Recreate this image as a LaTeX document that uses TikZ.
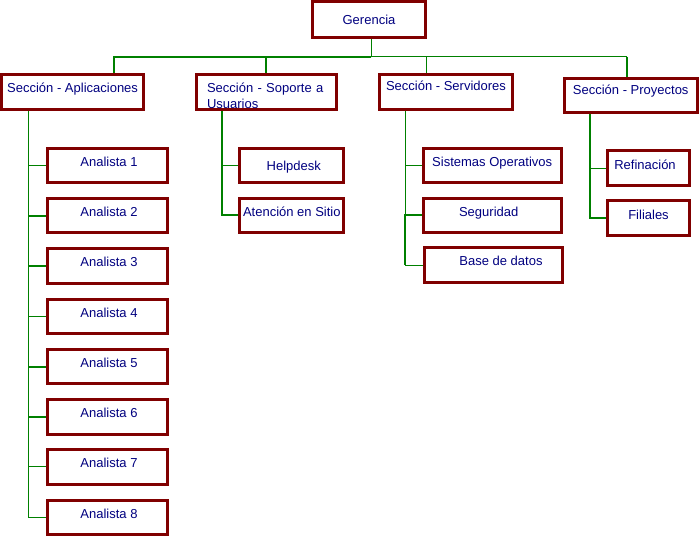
\documentclass[tikz,border=0pt]{standalone}
\usepackage{fontspec}
\setmainfont{Liberation Sans}
\definecolor{boxred}{RGB}{128,0,0}
\definecolor{navytext}{RGB}{0,0,128}
\definecolor{linegreen}{RGB}{0,128,0}
\pgfdeclarelayer{background}
\pgfsetlayers{background,main}
\begin{document}
\begin{tikzpicture}[x=1pt,y=-1pt,
  box/.style={draw=boxred, line width=3pt, fill=white, inner sep=0pt,
    text=navytext, font=\fontsize{13}{15.6}\selectfont,
    text height=10pt, text depth=8.6pt, minimum height=34.5pt},
  boxmid/.style={text depth=0.6pt},
  boxhigh/.style={text depth=12.6pt},
  anbox/.style={box, minimum width=120.6pt},
  thinln/.style={draw=linegreen, line width=1pt},
  thickln/.style={draw=linegreen, line width=2pt}]
\useasboundingbox (0,0) rectangle (700,538);

% top
\node[box, boxmid, minimum width=113pt, minimum height=36pt] (ger) at (369,19.5) {Gerencia};

% sections
\node[box, minimum width=142pt] (sap) at (72.6,92.2) {Sección - Aplicaciones};
\node[box, minimum width=140pt, align=left, text width=118pt, inner xsep=11pt] (ssop) at (266,92.2) {Sección - Soporte a\\Usuarios};
\node[box, boxhigh, minimum width=133.6pt] (sser) at (446,92.2) {Sección - Servidores};
\node[box, boxhigh, minimum width=133pt] (spro) at (630.7,95.7) {Sección - Proyectos};

% analistas
\node[anbox] (a1) at (107.5,165.4) {\hspace*{3pt}Analista 1};
\node[anbox] (a2) at (107.5,215.5) {\hspace*{3pt}Analista 2};
\node[anbox] (a3) at (107.5,265.9) {\hspace*{3pt}Analista 3};
\node[anbox] (a4) at (107.5,316.3) {\hspace*{3pt}Analista 4};
\node[anbox] (a5) at (107.5,366.5) {\hspace*{3pt}Analista 5};
\node[anbox] (a6) at (107.5,416.8) {\hspace*{3pt}Analista 6};
\node[anbox] (a7) at (107.5,466.9) {\hspace*{3pt}Analista 7};
\node[anbox] (a8) at (107.5,517.6) {\hspace*{3pt}Analista 8};

% soporte
\node[box, boxmid, minimum width=104pt] (hd) at (291.8,165.4) {\hspace*{4pt}Helpdesk};
\node[box, minimum width=104pt] (at) at (291.8,215.4) {Atención en Sitio};

% servidores
\node[box, minimum width=138pt] (so) at (492.2,165.4) {Sistemas Operativos};
\node[box, minimum width=138pt] (seg) at (492.2,215.4) {Seguridad\hspace*{7pt}};
\node[box, minimum width=138pt] (bd) at (493,265.2) {\hspace*{16pt}Base de datos};

% proyectos
\node[box, minimum width=81.4pt, minimum height=35pt] (ref) at (648.5,168.3) {Refinación\hspace*{7pt}};
\node[box, minimum width=81.4pt, minimum height=35pt] (fil) at (648.5,218.3) {Filiales};

% trunk x-positions and bus points
\coordinate (busM) at (371.3,56.7);
\coordinate (busL) at (114,56.7);
\coordinate (busS) at (426.7,56.7);
\coordinate (busP) at (627,56.7);
\coordinate (xA) at (28.5,0);
\coordinate (xS) at (222,0);
\coordinate (xV) at (405,0);
\coordinate (xP) at (590.3,0);

\begin{pgfonlayer}{background}
% top-level connectors
\draw[thinln] (ger.south -| busM) -- (busM);
\draw[thickln] (busM) -- (busL) -- (busL |- sap.north);
\draw[thickln] (ssop.north |- busM) -- (ssop.north);
\draw[thinln] (busM) -- (busS) -- (busS |- sser.north);
\draw[thinln] (busS) -- (busP);
\draw[thickln] (busP) -- (busP |- spro.north);

% aplicaciones
\draw[thinln] (sap.south -| xA) |- (a8.west);
\draw[thinln] (a1.west) -- (a1.west -| xA);
\draw[thickln] (a2.west) -- (a2.west -| xA);
\draw[thickln] (a3.west) -- (a3.west -| xA);
\draw[thinln] (a4.west) -- (a4.west -| xA);
\draw[thickln] (a5.west) -- (a5.west -| xA);
\draw[thickln] (a6.west) -- (a6.west -| xA);
\draw[thinln] (a7.west) -- (a7.west -| xA);

% soporte
\draw[thickln] (ssop.south -| xS) |- (at.west);
\draw[thinln] (hd.west) -- (hd.west -| xS);

% servidores
\draw[thinln] (sser.south -| xV) -- (seg.west -| xV);
\draw[thickln] (seg.west) -- (seg.west -| xV) -- (bd.west -| xV);
\draw[thinln] (so.west) -- (so.west -| xV);
\draw[thinln] (bd.west) -- (bd.west -| xV);

% proyectos
\draw[thickln] (spro.south -| xP) |- (fil.west);
\draw[thinln] (ref.west) -- (ref.west -| xP);
\end{pgfonlayer}
\end{tikzpicture}
\end{document}
